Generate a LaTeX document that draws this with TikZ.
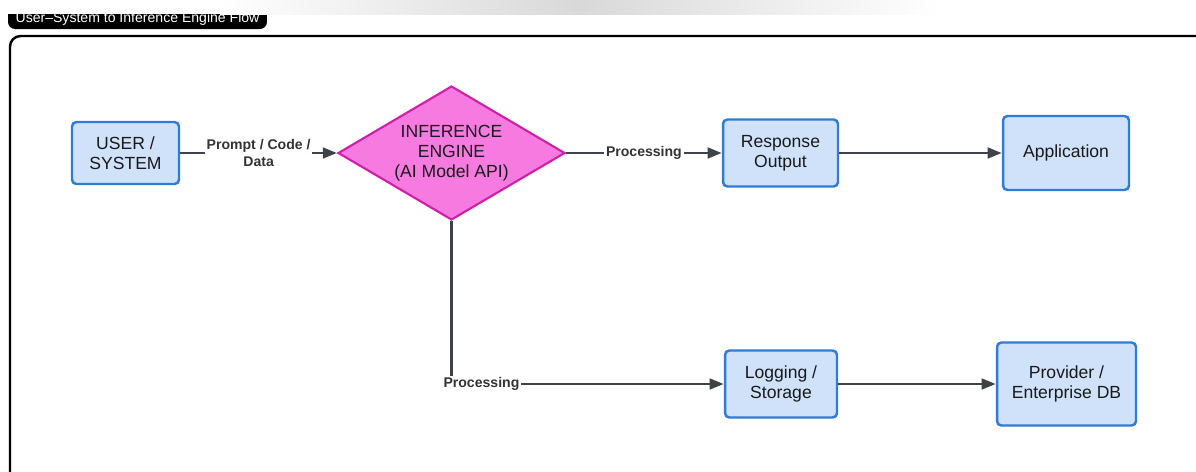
\documentclass[tikz,border=0pt]{standalone}
\usepackage{fontspec}
\setmainfont{Liberation Sans}
\usetikzlibrary{arrows.meta,shapes.geometric,positioning}
\definecolor{boxfill}{HTML}{CFE2FA}
\definecolor{boxline}{HTML}{2F7BD6}
\definecolor{enginefill}{HTML}{F67AE0}
\definecolor{engineline}{HTML}{CF1FA8}
\definecolor{flowgray}{HTML}{3E4249}

\begin{document}
\begin{tikzpicture}[x=0.02cm, y=-0.02cm,
  every node/.style={font=\fontsize{10}{11.5}\selectfont},
  box/.style={draw=boxline, line width=1.4pt, fill=boxfill, rounded corners=2.5pt, align=center, text=black!90},
  engine/.style={diamond, shape aspect=1.7, draw=engineline, line width=1.2pt, fill=enginefill, align=center, inner sep=0pt, text=black!90},
  flow/.style={draw=flowgray, line width=1.6pt, -{Triangle[length=8pt,width=6pt]}},
  flowlbl/.style={fill=white, inner sep=1pt, font=\fontsize{8}{9.5}\selectfont\bfseries, text=black!80, align=center}]
  \useasboundingbox (0,0) rectangle (1196,471);
  % outer frame
  \draw[line width=1.4pt, rounded corners=6pt] (10,36) rectangle (1220,500);
  % top row
  \node[box, minimum width=2.14cm, minimum height=1.24cm] (user) at (125.5,153) {USER /\\SYSTEM};
  \node[engine, minimum width=4.54cm, minimum height=2.68cm] (engine) at (451.5,153) {INFERENCE\\ENGINE\\(AI Model API)};
  \node[box, minimum width=2.3cm, minimum height=1.34cm] (resp) at (780.5,153) {Response\\Output};
  \node[box, minimum width=2.52cm, minimum height=1.48cm] (app) at (1066,153) {Application};
  % bottom row
  \node[box, minimum width=2.24cm, minimum height=1.34cm] (log) at (781,384) {Logging /\\Storage};
  \node[box, minimum width=2.78cm, minimum height=1.66cm] (prov) at (1066.5,384) {Provider /\\Enterprise DB};
  % connectors
  \draw[flow] (user) -- node[flowlbl]{Prompt / Code /\\Data} (engine);
  \draw[flow] (engine) -- node[flowlbl]{Processing} (resp);
  \draw[flow] (resp) -- (app);
  \draw[flow] (engine) |- node[flowlbl, pos=0.555]{Processing} (log);
  \draw[flow] (log) -- (prov);
  % title tab
  \node[fill=black, rounded corners=4pt, text=white, font=\fontsize{8}{9}\selectfont, minimum width=5.18cm, text height=0.38cm, text depth=0.14cm, inner sep=0pt, anchor=base] (title) at (137.5,22) {User--System to Inference Engine Flow};
  \fill[white] (0,0) rectangle (1196,14);
  \shade[left color=white, right color=white, middle color=gray!30] (220,0) rectangle (940,14);
\end{tikzpicture}
\end{document}
